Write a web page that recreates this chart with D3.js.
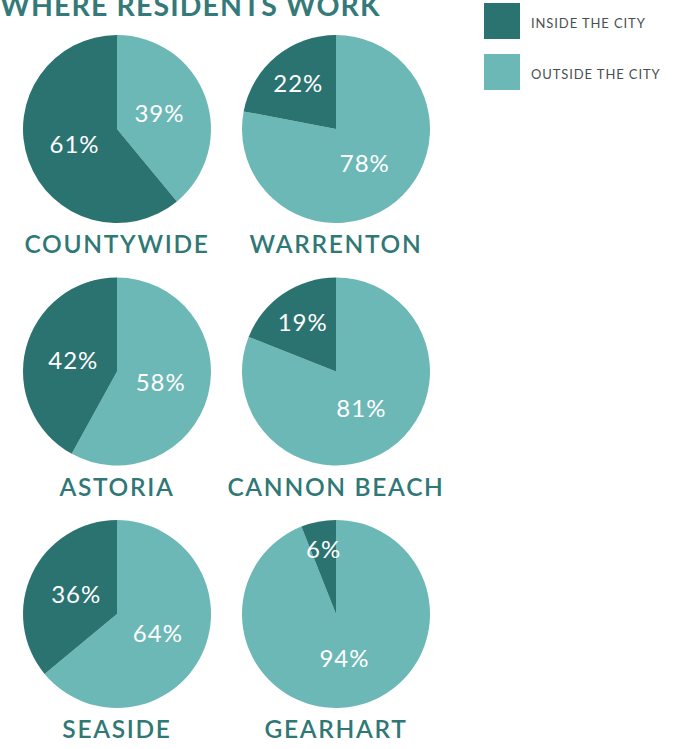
<!DOCTYPE html>
<html>
<head>
<meta charset="utf-8">
<script src="https://cdn.jsdelivr.net/npm/d3@7"></script>
<style>
  html, body { margin: 0; padding: 0; background: #ffffff; }
  svg { display: block; }
</style>
</head>
<body>
<svg id="chart" width="674" height="749"></svg>
<script>
// ---- data ----
const title = "WHERE RESIDENTS WORK";
const cities = ["COUNTYWIDE", "WARRENTON", "ASTORIA", "CANNON BEACH", "SEASIDE", "GEARHART"];
const insideCity = [61, 22, 42, 19, 36, 6];
const outsideCity = [39, 78, 58, 81, 64, 94];
const seriesNames = ["INSIDE THE CITY", "OUTSIDE THE CITY"];
const seriesColors = ["#2b7371", "#6cb8b6"];

// ---- layout ----
const svg = d3.select("#chart");
const R = 94;
const colX = d3.scalePoint().domain([0, 1]).range([117, 336]);
const rowY = d3.scalePoint().domain([0, 1, 2]).range([129, 614]);
const labelFont = "'Lato', 'Open Sans', sans-serif";

// title (partly cut at top, as in the reference)
svg.append("text")
  .attr("x", 0).attr("y", 16)
  .attr("font-family", labelFont)
  .attr("font-weight", 700)
  .attr("font-size", 28.5)
  .attr("letter-spacing", 1.1)
  .attr("fill", "#347a79")
  .text(title);

// legend
const legend = svg.append("g");
seriesNames.forEach((name, i) => {
  const g = legend.append("g").attr("transform", `translate(484, ${3 + i * 51})`);
  g.append("rect").attr("width", 36).attr("height", 36).attr("fill", seriesColors[i]);
  g.append("text")
    .attr("x", 47).attr("y", 25)
    .attr("font-family", labelFont)
    .attr("font-size", 13)
    .attr("letter-spacing", 0.9)
    .attr("fill", "#4a4f52")
    .text(name);
});

const pie = d3.pie().sort(null).value(d => d.value);
const arc = d3.arc().innerRadius(0).outerRadius(R);

cities.forEach((city, i) => {
  const cx = colX(i % 2), cy = rowY(Math.floor(i / 2));
  const data = [
    { key: "outside", value: outsideCity[i], color: seriesColors[1] },
    { key: "inside", value: insideCity[i], color: seriesColors[0] }
  ];
  const arcs = pie(data);
  const g = svg.append("g").attr("transform", `translate(${cx},${cy})`);
  g.selectAll("path").data(arcs).join("path")
    .attr("d", arc)
    .attr("fill", d => d.data.color);

  g.selectAll("text.pct").data(arcs).join("text")
    .attr("class", "pct")
    .attr("transform", d => {
      const frac = d.data.value / 100;
      const lr = R * (frac < 0.1 ? 0.7 : frac < 0.3 ? 0.63 : 0.48);
      const c = d3.arc().innerRadius(lr).outerRadius(lr).centroid(d);
      return `translate(${c[0]},${c[1]})`;
    })
    .attr("text-anchor", "middle")
    .attr("dy", "0.36em")
    .attr("font-family", labelFont)
    .attr("font-size", 24)
    .attr("letter-spacing", 1)
    .attr("fill", "#ffffff")
    .text(d => d.data.value + "%");

  svg.append("text")
    .attr("x", cx).attr("y", cy + R + 30)
    .attr("text-anchor", "middle")
    .attr("font-family", labelFont)
    .attr("font-weight", 600)
    .attr("font-size", 24.5)
    .attr("letter-spacing", 1.7)
    .attr("fill", "#2f7876")
    .text(city);
});
</script>
</body>
</html>
